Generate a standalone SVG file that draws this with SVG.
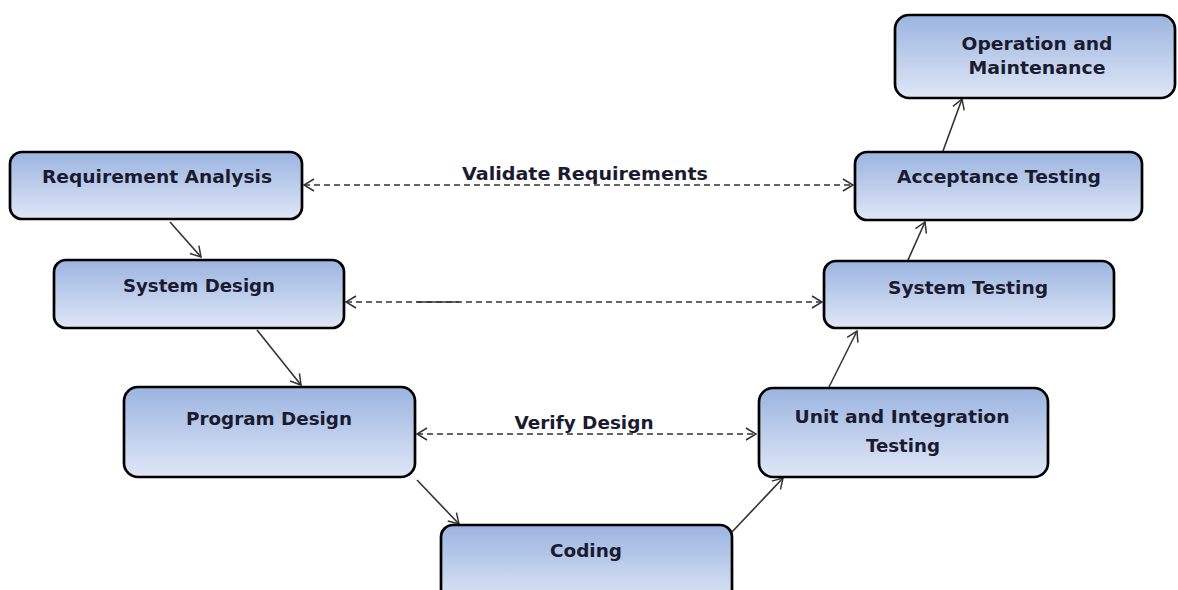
<svg xmlns="http://www.w3.org/2000/svg" width="1178" height="590" viewBox="0 0 1178 590">
  <defs>
    <linearGradient id="boxFill" x1="0" y1="0" x2="0" y2="1">
      <stop offset="0" stop-color="#9bb4e0"/>
      <stop offset="1" stop-color="#dfe7f6"/>
    </linearGradient>
    <marker id="open" viewBox="0 0 12 14" refX="11" refY="7" markerWidth="12" markerHeight="14" markerUnits="userSpaceOnUse" orient="auto-start-reverse">
      <path d="M1,1 L11,7 L1,13" fill="none" stroke="#333" stroke-width="1.5"/>
    </marker>
    <style>
      .box { fill: url(#boxFill); stroke: #000; stroke-width: 2.7; }
      .lbl { font-family: "DejaVu Sans", "Open Sans", sans-serif; font-weight: 700; font-size: 18px; fill: #1a1b30; text-anchor: middle; }
      .flow { stroke: #333; stroke-width: 1.6; fill: none; marker-end: url(#open); }
      .trace { stroke: #333; stroke-width: 1.6; fill: none; stroke-dasharray: 6 4; marker-start: url(#open); marker-end: url(#open); }
    </style>
  </defs>

  <rect width="1178" height="590" fill="#fff"/>

  <g id="connectors">
    <line class="flow" x1="170" y1="222" x2="201" y2="257"/>
    <line class="flow" x1="257" y1="330" x2="301" y2="385"/>
    <line class="flow" x1="417" y1="480" x2="459" y2="524"/>
    <line class="flow" x1="732" y1="532" x2="783" y2="478"/>
    <line class="flow" x1="829" y1="387" x2="857" y2="331"/>
    <line class="flow" x1="908" y1="260" x2="925" y2="222"/>
    <line class="flow" x1="943" y1="151" x2="962" y2="99"/>

    <line class="trace" x1="304" y1="185" x2="853" y2="185"/>
    <line class="trace" x1="346" y1="302" x2="822" y2="302"/>
    <line stroke="#333" stroke-width="1.6" x1="417" y1="302" x2="459" y2="302"/>
    <line class="trace" x1="417" y1="434" x2="756" y2="434"/>

    <text class="lbl" x="585" y="180" textLength="246" lengthAdjust="spacingAndGlyphs">Validate Requirements</text>
    <text class="lbl" x="584" y="429" textLength="139" lengthAdjust="spacingAndGlyphs">Verify Design</text>
  </g>

  <g id="requirement-analysis">
    <rect class="box" x="10" y="152" width="292" height="67" rx="12"/>
    <text class="lbl" x="157" y="183" textLength="230" lengthAdjust="spacingAndGlyphs">Requirement Analysis</text>
  </g>

  <g id="system-design">
    <rect class="box" x="54" y="260" width="290" height="68" rx="12"/>
    <text class="lbl" x="199" y="292" textLength="152" lengthAdjust="spacingAndGlyphs">System Design</text>
  </g>

  <g id="program-design">
    <rect class="box" x="124" y="387" width="291" height="90" rx="14"/>
    <text class="lbl" x="269" y="425" textLength="166" lengthAdjust="spacingAndGlyphs">Program Design</text>
  </g>

  <g id="coding">
    <rect class="box" x="441" y="525" width="291" height="80" rx="12"/>
    <text class="lbl" x="586" y="557" textLength="72" lengthAdjust="spacingAndGlyphs">Coding</text>
  </g>

  <g id="unit-integration-testing">
    <rect class="box" x="759" y="388" width="289" height="89" rx="14"/>
    <text class="lbl" x="902" y="423" textLength="215" lengthAdjust="spacingAndGlyphs">Unit and Integration</text>
    <text class="lbl" x="903" y="452" textLength="74" lengthAdjust="spacingAndGlyphs">Testing</text>
  </g>

  <g id="system-testing">
    <rect class="box" x="824" y="261" width="290" height="67" rx="12"/>
    <text class="lbl" x="968" y="294" textLength="160" lengthAdjust="spacingAndGlyphs">System Testing</text>
  </g>

  <g id="acceptance-testing">
    <rect class="box" x="855" y="152" width="287" height="68" rx="12"/>
    <text class="lbl" x="999" y="183" textLength="204" lengthAdjust="spacingAndGlyphs">Acceptance Testing</text>
  </g>

  <g id="operation-maintenance">
    <rect class="box" x="895" y="15" width="280" height="83" rx="14"/>
    <text class="lbl" x="1037" y="50" textLength="151" lengthAdjust="spacingAndGlyphs">Operation and</text>
    <text class="lbl" x="1037" y="74" textLength="137" lengthAdjust="spacingAndGlyphs">Maintenance</text>
  </g>
</svg>
